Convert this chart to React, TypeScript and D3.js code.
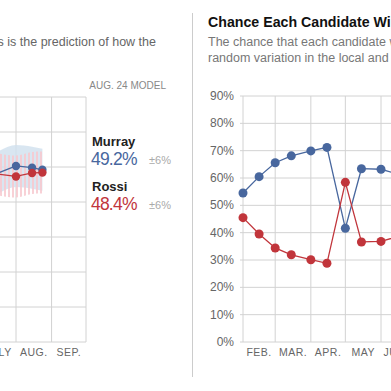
import React from "react";
import * as d3 from "d3";

// poll average, latest model (left panel, only its right end is in view)
const pollDates = ["2010-07-15", "2010-08-01", "2010-08-15", "2010-08-24"];
const pollMurray = [48.1, 50.3, 49.8, 49.2];
const pollRossi = [48.0, 47.3, 48.3, 48.4];
const pollMonths = ["JULY", "AUG.", "SEP."];
const margin = 6;

// chance of winning (right panel)
const chanceDates = [
  "2010-02-01", "2010-02-15", "2010-03-01", "2010-03-15", "2010-04-01",
  "2010-04-15", "2010-05-01", "2010-05-15", "2010-06-01", "2010-06-15",
];
const chanceMurray = [54.5, 60.5, 65.6, 68.1, 69.9, 71.2, 41.6, 63.4, 63.2, 61.5];
const chanceRossi = [45.5, 39.5, 34.4, 31.9, 30.1, 28.8, 58.4, 36.6, 36.8, 38.5];
const chanceMonths = ["FEB.", "MAR.", "APR.", "MAY", "JUNE"];
const chanceTicks = [0, 10, 20, 30, 40, 50, 60, 70, 80, 90];

const BLUE = "#48679e";
const RED = "#c1353b";
const GRID = "#d2d2d2";
const FONT = "'Liberation Sans', Arial, Helvetica, sans-serif";

const parse = d3.timeParse("%Y-%m-%d");

const App = () => {
  // ---- left chart scales
  const xL = d3.scaleTime()
    .domain([new Date(2010, 7, 1), new Date(2010, 9, 1)])
    .range([16, 86]);
  const yL = d3.scaleLinear().domain([0, 70]).range([342, 97]);
  const leftMonths = d3.timeMonth.range(new Date(2010, 6, 1), new Date(2010, 9, 2));

  const pts = pollDates.map((d, i) => ({ d: parse(d)!, m: pollMurray[i], r: pollRossi[i] }));
  const lineL = (key: "m" | "r") =>
    d3.line<any>().x((p) => xL(p.d)).y((p) => yL(p[key]))(pts) || "";
  const band = (key: "m" | "r") =>
    d3.area<any>()
      .x((p) => xL(p.d))
      .y0((p) => yL(p[key] - margin))
      .y1((p) => yL(p[key] + margin))
      .curve(d3.curveMonotoneX)(pts) || "";

  // ---- right chart scales
  const xR = d3.scaleTime()
    .domain([new Date(2010, 1, 1), new Date(2010, 5, 1)])
    .range([243, 381]);
  const yR = d3.scaleLinear().domain([0, 90]).range([342, 96]);
  const rightMonths = d3.timeMonth.range(new Date(2010, 1, 1), new Date(2010, 7, 1));

  const cpts = chanceDates.map((d, i) => ({ d: parse(d)!, m: chanceMurray[i], r: chanceRossi[i] }));
  const lineR = (key: "m" | "r") =>
    d3.line<any>().x((p) => xR(p.d)).y((p) => yR(p[key]))(cpts) || "";

  return (
    <div style={{ position: "absolute", left: 0, top: 0 }}>
      <svg width={391} height={391} style={{ display: "block", fontFamily: FONT }}>
        <defs>
          <pattern id="stripes" width={4} height={4} patternUnits="userSpaceOnUse">
            <rect x={0} y={0} width={2} height={4} fill="#f7c9cf" />
          </pattern>
        </defs>
        <rect width={391} height={391} fill="#fff" />

        {/* ---------- left panel ---------- */}
        <text x={156} y={46} textAnchor="end" fontSize={12.5} fill="#666">
          This is the prediction of how the
        </text>
        <text x={166} y={89} textAnchor="end" fontSize={10} fill="#888">
          AUG. 24 MODEL
        </text>

        {yL.ticks(7).map((t) => (
          <line key={t} x1={-10} x2={86} y1={yL(t)} y2={yL(t)} stroke={GRID} />
        ))}
        {leftMonths.map((m) => (
          <line key={+m} x1={xL(m)} x2={xL(m)} y1={97} y2={342} stroke={GRID} />
        ))}
        {leftMonths.slice(0, 3).map((m, i) => {
          const next = d3.timeMonth.offset(m, 1);
          return (
            <text key={+m} x={(xL(m) + xL(next)) / 2} y={356} textAnchor="middle"
              fontSize={10.5} fill="#666" letterSpacing={0.5}>
              {pollMonths[i]}
            </text>
          );
        })}

        <path d={band("m")} fill="#cfe0ee" opacity={0.8} />
        <path d={band("r")} fill="url(#stripes)" opacity={0.85} />
        <path d={lineL("m")} fill="none" stroke={BLUE} strokeWidth={1.3} />
        <path d={lineL("r")} fill="none" stroke={RED} strokeWidth={1.3} />
        {pts.slice(1).map((p) => (
          <g key={+p.d}>
            <circle cx={xL(p.d)} cy={yL(p.m)} r={4.2} fill={BLUE} />
            <circle cx={xL(p.d)} cy={yL(p.r)} r={4.2} fill={RED} />
          </g>
        ))}

        <text x={92} y={146} fontSize={13} fontWeight="bold" fill="#222">Murray</text>
        <text x={91} y={165} fontSize={17.5} letterSpacing={-0.8} fill={BLUE}>
          {pollMurray[pollMurray.length - 1].toFixed(1)}%
        </text>
        <text x={149} y={164} fontSize={11} fill="#aaa">±{margin}%</text>
        <text x={92} y={191} fontSize={13} fontWeight="bold" fill="#222">Rossi</text>
        <text x={91} y={210} fontSize={17.5} letterSpacing={-0.8} fill={RED}>
          {pollRossi[pollRossi.length - 1].toFixed(1)}%
        </text>
        <text x={149} y={209} fontSize={11} fill="#aaa">±{margin}%</text>

        <line x1={192.5} x2={192.5} y1={13} y2={377} stroke="#ccc" />

        {/* ---------- right panel ---------- */}
        <text x={208} y={27} fontSize={14.2} fontWeight="bold" fill="#111">
          Chance Each Candidate Wins
        </text>
        <text x={208} y={46} fontSize={12.5} fill="#777">
          The chance that each candidate would win, given
        </text>
        <text x={208} y={62} fontSize={12.5} fill="#777">
          random variation in the local and national polls
        </text>

        {chanceTicks.map((t) => (
          <g key={t}>
            <line x1={240} x2={391} y1={yR(t)} y2={yR(t)} stroke={GRID} />
            <text x={234} y={yR(t) + 4} textAnchor="end" fontSize={12} fill="#666">
              {t}%
            </text>
          </g>
        ))}
        {rightMonths.map((m) => (
          <line key={+m} x1={xR(m)} x2={xR(m)} y1={96} y2={342} stroke={GRID} />
        ))}
        {rightMonths.slice(0, 5).map((m, i) => {
          const next = d3.timeMonth.offset(m, 1);
          return (
            <text key={+m} x={(xR(m) + xR(next)) / 2} y={356} textAnchor="middle"
              fontSize={10.5} fill="#666" letterSpacing={0.5}>
              {chanceMonths[i]}
            </text>
          );
        })}

        <path d={lineR("m")} fill="none" stroke={BLUE} strokeWidth={1.3} />
        <path d={lineR("r")} fill="none" stroke={RED} strokeWidth={1.3} />
        {cpts.map((p) => (
          <g key={+p.d}>
            <circle cx={xR(p.d)} cy={yR(p.m)} r={4.5} fill={BLUE} />
            <circle cx={xR(p.d)} cy={yR(p.r)} r={4.5} fill={RED} />
          </g>
        ))}
      </svg>
    </div>
  );
};

export default App;
